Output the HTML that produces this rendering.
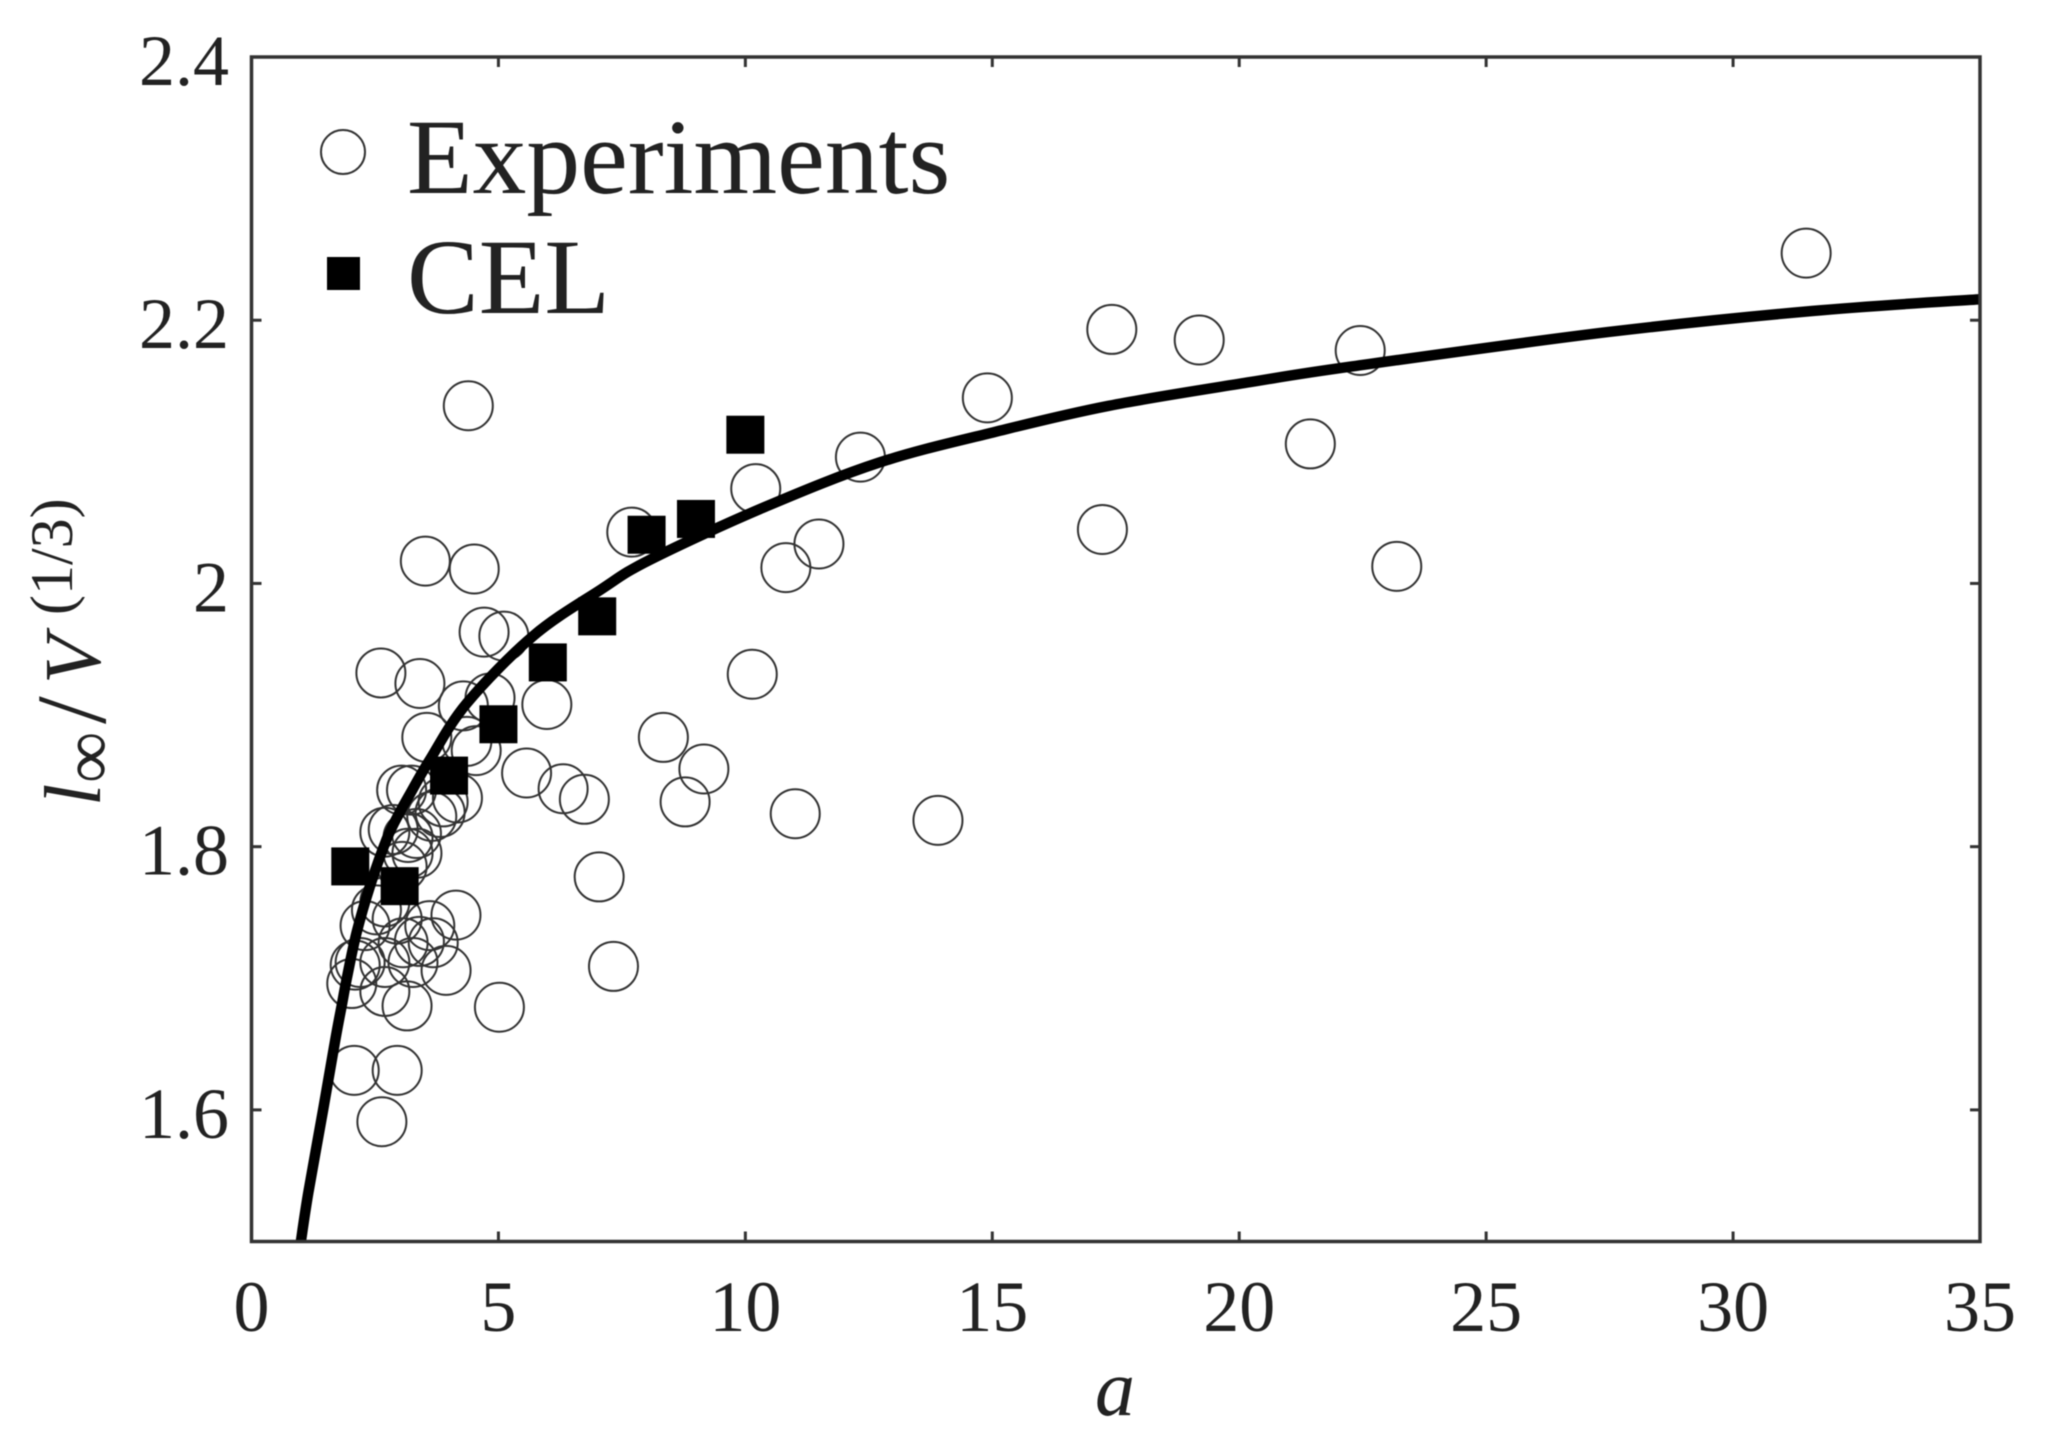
<!DOCTYPE html>
<html lang="en">
<head>
<meta charset="utf-8">
<title>Scatter chart of l∞/V^(1/3) against a</title>
<style>
  html, body { margin: 0; padding: 0; background: #fff; }
  #chart { display: block; width: 2051px; height: 1445px; filter: blur(0.6px); }
  text { font-family: "Liberation Serif", serif; fill: #222; }
</style>
</head>
<body>
<svg id="chart" xmlns="http://www.w3.org/2000/svg" width="2051" height="1445" viewBox="0 0 2051 1445">
  <rect x="0" y="0" width="2051" height="1445" fill="#fff"/>
  <g id="experiments"></g>
  <g id="cel"></g>
  <path id="fit" fill="none" stroke="#000" stroke-width="10.5" stroke-linejoin="round"/>
  <rect id="frame" fill="none" stroke="#333" stroke-width="3.5"/>
  <g id="ticks"></g>
  <g id="tick-labels"></g>

  <text x="1115" y="1415" text-anchor="middle" font-size="80" font-style="italic">a</text>

  <g>
    <text transform="translate(100,806) rotate(-90)" font-size="80" font-style="italic">l</text>
    <text transform="translate(112,783) rotate(-90)" font-size="72">∞</text>
    <text transform="translate(105,724) rotate(-90)" font-size="100">/</text>
    <text transform="translate(100,684) rotate(-90)" font-size="80" font-style="italic">V</text>
    <text transform="translate(72,615) rotate(-90)" font-size="60">(1/3)</text>
  </g>

  <g>
    <circle cx="343" cy="152" r="22" fill="none" stroke="#333" stroke-width="2"/>
    <text x="407" y="193" font-size="107.5" fill="#000">Experiments</text>
    <rect x="327" y="257" width="33" height="33" fill="#000"/>
    <text x="407" y="313" font-size="107.5" fill="#000">CEL</text>
  </g>
</svg>
<script>
var expA = [31.48,17.42,19.19,22.45,14.90,4.39,21.44,12.33,10.21,17.23,23.19,11.49,10.82,10.14,11.01,13.90,
  3.52,4.51,4.71,5.11,2.62,3.41,4.29,4.83,5.98,3.55,7.70,8.34,8.78,9.16,5.57,6.31,6.74,3.04,3.24,4.17,3.88,3.65,3.82,
  2.70,2.87,3.17,3.34,3.17,4.55,4.36,7.04,7.33,4.14,3.94,3.68,3.61,3.15,5.02,2.08,2.95,2.64,2.70,2.03,2.10,2.20,2.30,2.53,3.07,3.27,2.70,2.70,3.05,3.35,2.95,3.40];
var expL = [2.251,2.193,2.185,2.177,2.141,2.135,2.106,2.096,2.072,2.041,2.013,2.030,2.012,1.931,1.825,1.820,
  2.017,2.011,1.963,1.960,1.932,1.924,1.907,1.913,1.908,1.883,2.039,1.883,1.834,1.859,1.856,1.844,1.836,1.843,1.843,1.837,1.834,1.823,1.826,
  1.811,1.813,1.807,1.810,1.795,1.873,1.880,1.777,1.709,1.748,1.706,1.727,1.740,1.679,1.678,1.630,1.630,1.591,1.690,1.696,1.710,1.712,1.740,1.752,1.727,1.712,1.712,1.758,1.785,1.795,1.745,1.728];
var celA = [2,3,4,5,6,7,8,9,10];
var celL = [1.785,1.770,1.854,1.893,1.940,1.975,2.037,2.049,2.113];
var curveA = [1.00,1.15,1.45,1.69,1.83,1.93,2.13,2.40,2.74,3.00,3.21,3.61,4.36,5.70,7.06,8.07,10.39,12.72,15.04,17.36,20.22,22.30,27.46,31.60,35.00];
var curveL = [1.500,1.537,1.600,1.652,1.680,1.700,1.735,1.770,1.806,1.826,1.840,1.866,1.909,1.960,1.995,2.018,2.058,2.092,2.115,2.135,2.153,2.165,2.191,2.207,2.216];
var xTicks = [0,5,10,15,20,25,30,35];
var yTicks = [1.6,1.8,2.0,2.2,2.4];
var yTickLabels = ["1.6","1.8","2","2.2","2.4"];

var NS = "http://www.w3.org/2000/svg";
var left = 251.5, right = 1980, top_ = 57, bottom = 1241.5;
var xMax = 35, yMin = 1.5, yMax = 2.4;
function xScale(v) { return left + (v / xMax) * (right - left); }
function yScale(v) { return bottom - ((v - yMin) / (yMax - yMin)) * (bottom - top_); }
function make(tag) { return document.createElementNS(NS, tag); }

var frame = document.getElementById("frame");
frame.setAttribute("x", left);
frame.setAttribute("y", top_);
frame.setAttribute("width", right - left);
frame.setAttribute("height", bottom - top_);

var expGroup = document.getElementById("experiments");
expA.forEach(function (a, i) {
  var c = make("circle");
  
  
  c.setAttribute("cx", xScale(a));
  c.setAttribute("cy", yScale(expL[i]));
  c.setAttribute("r", 24.5);
  c.setAttribute("fill", "none");
  c.setAttribute("stroke", "#333");
  c.setAttribute("stroke-width", 2);
  expGroup.appendChild(c);
});

var celGroup = document.getElementById("cel");
celA.forEach(function (a, i) {
  var s = make("rect");
  
  
  s.setAttribute("x", xScale(a) - 19);
  s.setAttribute("y", yScale(celL[i]) - 19);
  s.setAttribute("width", 38);
  s.setAttribute("height", 38);
  s.setAttribute("fill", "#000");
  celGroup.appendChild(s);
});

var pts = curveA.map(function (a, i) { return [xScale(a), yScale(curveL[i])]; });
var d = "M" + pts[0][0].toFixed(1) + " " + pts[0][1].toFixed(1);
for (var i = 0; i < pts.length - 1; i++) {
  var p0 = pts[Math.max(i - 1, 0)], p1 = pts[i], p2 = pts[i + 1], p3 = pts[Math.min(i + 2, pts.length - 1)];
  var c1x = p1[0] + (p2[0] - p0[0]) / 6, c1y = p1[1] + (p2[1] - p0[1]) / 6;
  var c2x = p2[0] - (p3[0] - p1[0]) / 6, c2y = p2[1] - (p3[1] - p1[1]) / 6;
  d += " C" + c1x.toFixed(1) + " " + c1y.toFixed(1) + " " + c2x.toFixed(1) + " " + c2y.toFixed(1) + " " + p2[0].toFixed(1) + " " + p2[1].toFixed(1);
}
document.getElementById("fit").setAttribute("d", d);

var tickGroup = document.getElementById("ticks");
var labelGroup = document.getElementById("tick-labels");
function tick(x1, y1, x2, y2) {
  var l = make("line");
  
  
  l.setAttribute("x1", x1);
  l.setAttribute("y1", y1);
  l.setAttribute("x2", x2);
  l.setAttribute("y2", y2);
  l.setAttribute("stroke", "#333");
  l.setAttribute("stroke-width", 3);
  tickGroup.appendChild(l);
}
var tickLen = 10;
xTicks.forEach(function (v) {
  var x = xScale(v);
  if (v !== 0 && v !== xMax) {
    tick(x, bottom, x, bottom - tickLen);
    tick(x, top_, x, top_ + tickLen);
  }
  var t = make("text");
  
  
  t.setAttribute("x", x);
  t.setAttribute("y", 1331);
  t.setAttribute("text-anchor", "middle");
  t.setAttribute("font-size", 72);
  t.textContent = String(v);
  labelGroup.appendChild(t);
});
yTicks.forEach(function (v, i) {
  var y = yScale(v);
  if (v !== yMax) {
    tick(left, y, left + tickLen, y);
    tick(right, y, right - tickLen, y);
  }
  var t = make("text");
  
  
  t.setAttribute("x", 229);
  t.setAttribute("y", y + 28);
  t.setAttribute("text-anchor", "end");
  t.setAttribute("font-size", 72);
  t.textContent = yTickLabels[i];
  labelGroup.appendChild(t);
});
</script>
</body>
</html>
